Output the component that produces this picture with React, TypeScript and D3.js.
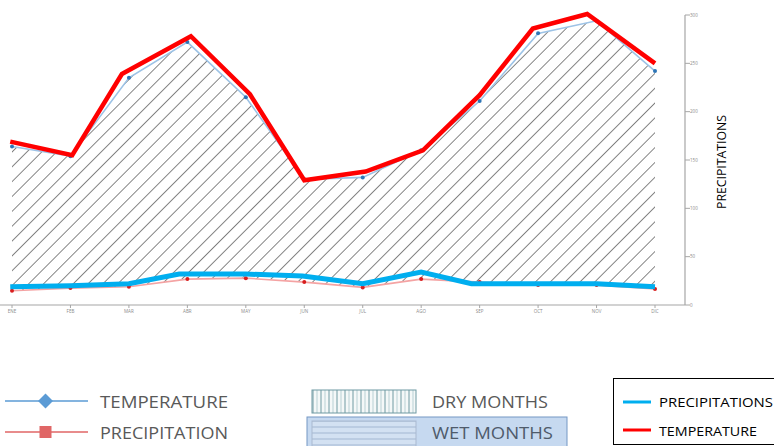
import React from "react";
import * as d3 from "d3";

const months = ["ENE", "FEB", "MAR", "ABR", "MAY", "JUN", "JUL", "AGO", "SEP", "OCT", "NOV", "DIC"];
const temperature = [164, 154, 235, 272, 215, 130, 132, 160, 211, 281, 294, 242];
const precipitation = [14.7, 17.5, 18.9, 26.8, 27.8, 23.7, 18.2, 26.8, 23.7, 20.6, 20.6, 16.5];
const tempOverlayPos = [-0.03, 1.03, 1.88, 3.06, 4.07, 5.0, 6.05, 7.03, 8.0, 8.91, 9.84, 11];
const tempOverlay = [169, 155, 239, 278, 218, 129, 138, 160, 217, 286, 301, 250];
const precipOverlayPos = [-0.03, 1, 2, 2.86, 4, 4.97, 6, 7, 7.86, 9, 10, 11];
const precipOverlay = [19, 20, 22, 32, 32, 30, 22, 34, 22, 22, 22, 19];
const yTicks = [0, 50, 100, 150, 200, 250, 300];

const W = 774;
const H = 446;

export default function App() {
  const x = d3.scaleLinear().domain([0, 11]).range([12, 655]);
  const y = d3.scaleLinear().domain([0, 300]).range([305, 15]);
  const idx = months.map((_, i) => i);

  const area = d3
    .area<number>()
    .x((i) => x(i))
    .y0((i) => y(precipitation[i]))
    .y1((i) => y(temperature[i]))(idx) as string;
  const tempLine = d3.line<number>().x((i) => x(i)).y((i) => y(temperature[i]))(idx) as string;
  const precLine = d3.line<number>().x((i) => x(i)).y((i) => y(precipitation[i]))(idx) as string;
  const tempOver = d3
    .line<number>()
    .x((i) => x(tempOverlayPos[i]))
    .y((i) => y(tempOverlay[i]))(idx) as string;
  const precOver = d3
    .line<number>()
    .x((i) => x(precipOverlayPos[i]))
    .y((i) => y(precipOverlay[i]))(idx) as string;

  const axisX = 685;
  const font = "'Open Sans', 'Noto Sans', sans-serif";
  const legendGrey = "#595959";

  return (
    <svg width={W} height={H} style={{ position: "absolute", left: 0, top: 0, background: "#fff" }}>
      <defs>
        <pattern id="hatch" width="10.5" height="10.5" patternUnits="userSpaceOnUse" patternTransform="rotate(45)">
          <line x1="0" y1="0" x2="0" y2="10.5" stroke="#707070" strokeWidth="1.7" />
        </pattern>
        <pattern id="vlines" width="8" height="30" patternUnits="userSpaceOnUse">
          <rect width="8" height="30" fill="#f4f8f8" />
          <line x1="1" y1="0" x2="1" y2="30" stroke="#6f9aa3" strokeWidth="1" />
          <line x1="5" y1="0" x2="5" y2="30" stroke="#b8d0d4" strokeWidth="1" />
        </pattern>
        <pattern id="hlines" width="120" height="6" patternUnits="userSpaceOnUse">
          <rect width="120" height="6" fill="#d3e1f2" />
          <line x1="0" y1="1" x2="120" y2="1" stroke="#a3b7d2" strokeWidth="1" />
        </pattern>
      </defs>

      {/* hatched area */}
      <path d={area} fill="url(#hatch)" />

      {/* baseline & right axis */}
      <line x1={0} x2={axisX} y1={y(0)} y2={y(0)} stroke="#a6a6a6" strokeWidth={1.2} />
      <line x1={axisX} x2={axisX} y1={y(300)} y2={y(0)} stroke="#a6a6a6" strokeWidth={1.2} />
      {yTicks.map((t) => (
        <g key={t}>
          <line x1={axisX} x2={axisX + 5} y1={y(t)} y2={y(t)} stroke="#a6a6a6" strokeWidth={1} />
          <text x={axisX + 5} y={y(t) + 1.5} fontSize={4.5} fill="#8a8a8a" fontFamily={font}>
            {t}
          </text>
        </g>
      ))}
      {months.map((m, i) => (
        <g key={m}>
          <line x1={x(i)} x2={x(i)} y1={y(0)} y2={y(0) + 3} stroke="#a6a6a6" strokeWidth={1} />
          <text x={x(i)} y={y(0) + 8} fontSize={4.5} fill="#8a8a8a" textAnchor="middle" fontFamily={font}>
            {m}
          </text>
        </g>
      ))}
      <text
        transform={`translate(726, 162) rotate(-90)`}
        textAnchor="middle"
        fontSize={12}
        fill="#000"
        fontFamily={font}
        textLength={94}
        lengthAdjust="spacingAndGlyphs"
      >
        PRECIPITATIONS
      </text>

      {/* thin series */}
      <path d={tempLine} fill="none" stroke="#9dc3e6" strokeWidth={1.6} />
      <path d={precLine} fill="none" stroke="#f4a3a3" strokeWidth={1.6} />
      {idx.map((i) => (
        <circle key={"t" + i} cx={x(i)} cy={y(temperature[i])} r={2} fill="#2e75b6" />
      ))}
      {idx.map((i) => (
        <circle key={"p" + i} cx={x(i)} cy={y(precipitation[i])} r={2} fill="#d81e1e" />
      ))}

      {/* thick overlays */}
      <path d={precOver} fill="none" stroke="#00aeef" strokeWidth={5} strokeLinejoin="miter" />
      <path d={tempOver} fill="none" stroke="#ff0000" strokeWidth={4.5} strokeLinejoin="miter" />

      {/* legend left */}
      <line x1={5} x2={88} y1={401} y2={401} stroke="#5b9bd5" strokeWidth={1.5} />
      <path d="M45.5,393.5 L53,401 L45.5,408.5 L38,401 Z" fill="#5b9bd5" />
      <text x={100} y={407.5} fontSize={16} fill={legendGrey} fontFamily={font} textLength={128} lengthAdjust="spacingAndGlyphs">
        TEMPERATURE
      </text>
      <line x1={5} x2={88} y1={432} y2={432} stroke="#e06666" strokeWidth={1.5} />
      <rect x={39.5} y={426} width={12} height={12} fill="#e06666" />
      <text x={100} y={438.5} fontSize={16} fill={legendGrey} fontFamily={font} textLength={128} lengthAdjust="spacingAndGlyphs">
        PRECIPITATION
      </text>

      {/* legend middle */}
      <rect x={312} y={390} width={104} height={23} fill="url(#vlines)" stroke="#6f9aa3" strokeWidth={1} />
      <text x={432} y={407.5} fontSize={16} fill={legendGrey} fontFamily={font} textLength={116} lengthAdjust="spacingAndGlyphs">
        DRY MONTHS
      </text>
      <rect x={307} y={417} width={260} height={32} fill="#c6d9f0" stroke="#7597c4" strokeWidth={1} />
      <rect x={312} y={421} width={104} height={30} fill="url(#hlines)" stroke="#a9b9d0" strokeWidth={1} />
      <text x={432} y={438.5} fontSize={16} fill="#4f5b6b" fontFamily={font} textLength={121} lengthAdjust="spacingAndGlyphs">
        WET MONTHS
      </text>

      {/* legend right */}
      <rect x={613.5} y={378.5} width={170} height={66} fill="#fff" stroke="#000" strokeWidth={1} />
      <line x1={623} x2={651} y1={402} y2={402} stroke="#00aeef" strokeWidth={3} />
      <text x={659} y={406.5} fontSize={13} fill="#000" fontFamily={font} textLength={114} lengthAdjust="spacingAndGlyphs">
        PRECIPITATIONS
      </text>
      <line x1={623} x2={651} y1={430} y2={430} stroke="#ff0000" strokeWidth={3} />
      <text x={659} y={435.5} fontSize={13} fill="#000" fontFamily={font} textLength={98} lengthAdjust="spacingAndGlyphs">
        TEMPERATURE
      </text>
    </svg>
  );
}
